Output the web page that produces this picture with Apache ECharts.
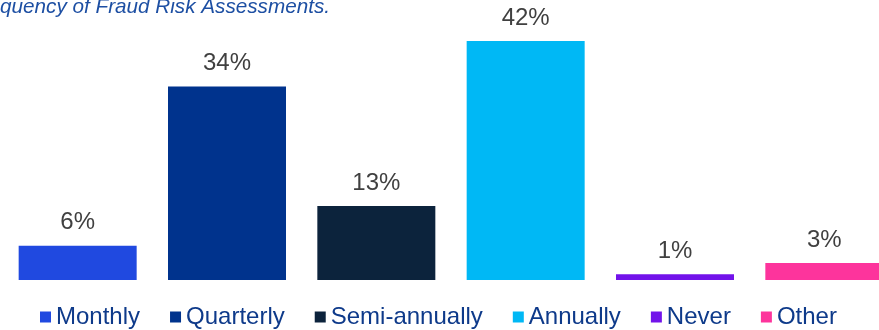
<!DOCTYPE html>
<html>
<head>
<meta charset="utf-8">
<script src="https://cdn.jsdelivr.net/npm/echarts@6/dist/echarts.min.js"></script>
<style>
  html, body { margin: 0; padding: 0; background: #ffffff; }
  #chart { width: 879px; height: 330px; }
</style>
</head>
<body>
<div id="chart"></div>
<script>
// Frequency of fraud risk assessments (share of respondents, %)
const categories = ['Monthly', 'Quarterly', 'Semi-annually', 'Annually', 'Never', 'Other'];
const values = [6, 34, 13, 42, 1, 3];
const colors = ['#2049e0', '#00338d', '#0c233c', '#00b8f5', '#7213ea', '#fd349c'];
const titleText = 'Frequency of Fraud Risk Assessments.';

const FONT = 'Liberation Sans, Arial, sans-serif';

// One series per category so each appears in the legend; stacking keeps them on one slot.
const series = categories.map((name, i) => ({
  name: name,
  type: 'bar',
  stack: 'all',
  barWidth: 118,
  itemStyle: { color: colors[i] },
  label: {
    show: true,
    position: 'top',
    distance: 11,
    color: '#404040',
    fontSize: 24,
    fontFamily: FONT,
    formatter: p => p.value + '%'
  },
  data: categories.map((c, j) => (j === i ? values[i] : '-'))
}));

const chart = echarts.init(document.getElementById('chart'));
chart.setOption({
  animation: false,
  title: {
    text: titleText,
    left: -36,
    top: -8,
    textStyle: {
      color: '#1d4fa3',
      fontSize: 20.7,
      fontStyle: 'italic',
      fontWeight: 'normal',
      fontFamily: FONT
    }
  },
  // the plot runs a little past the right edge, so the last bar is clipped
  grid: {
    left: 3, width: 896, top: 24, bottom: 50,
    containLabel: false,
    outerBoundsMode: 'none'
  },
  xAxis: {
    type: 'category',
    data: categories,
    axisLine: { show: false },
    axisTick: { show: false },
    axisLabel: { show: false }
  },
  yAxis: {
    type: 'value',
    min: 0,
    max: 45,
    show: false,
    splitLine: { show: false }
  },
  legend: {
    left: 35,
    top: 300,
    itemWidth: 11,
    itemHeight: 11,
    itemGap: 30,
    icon: 'rect',
    textStyle: {
      color: '#0e3a8a',
      fontSize: 24,
      fontFamily: FONT
    },
    data: categories
  },
  series: series
});
</script>
</body>
</html>
